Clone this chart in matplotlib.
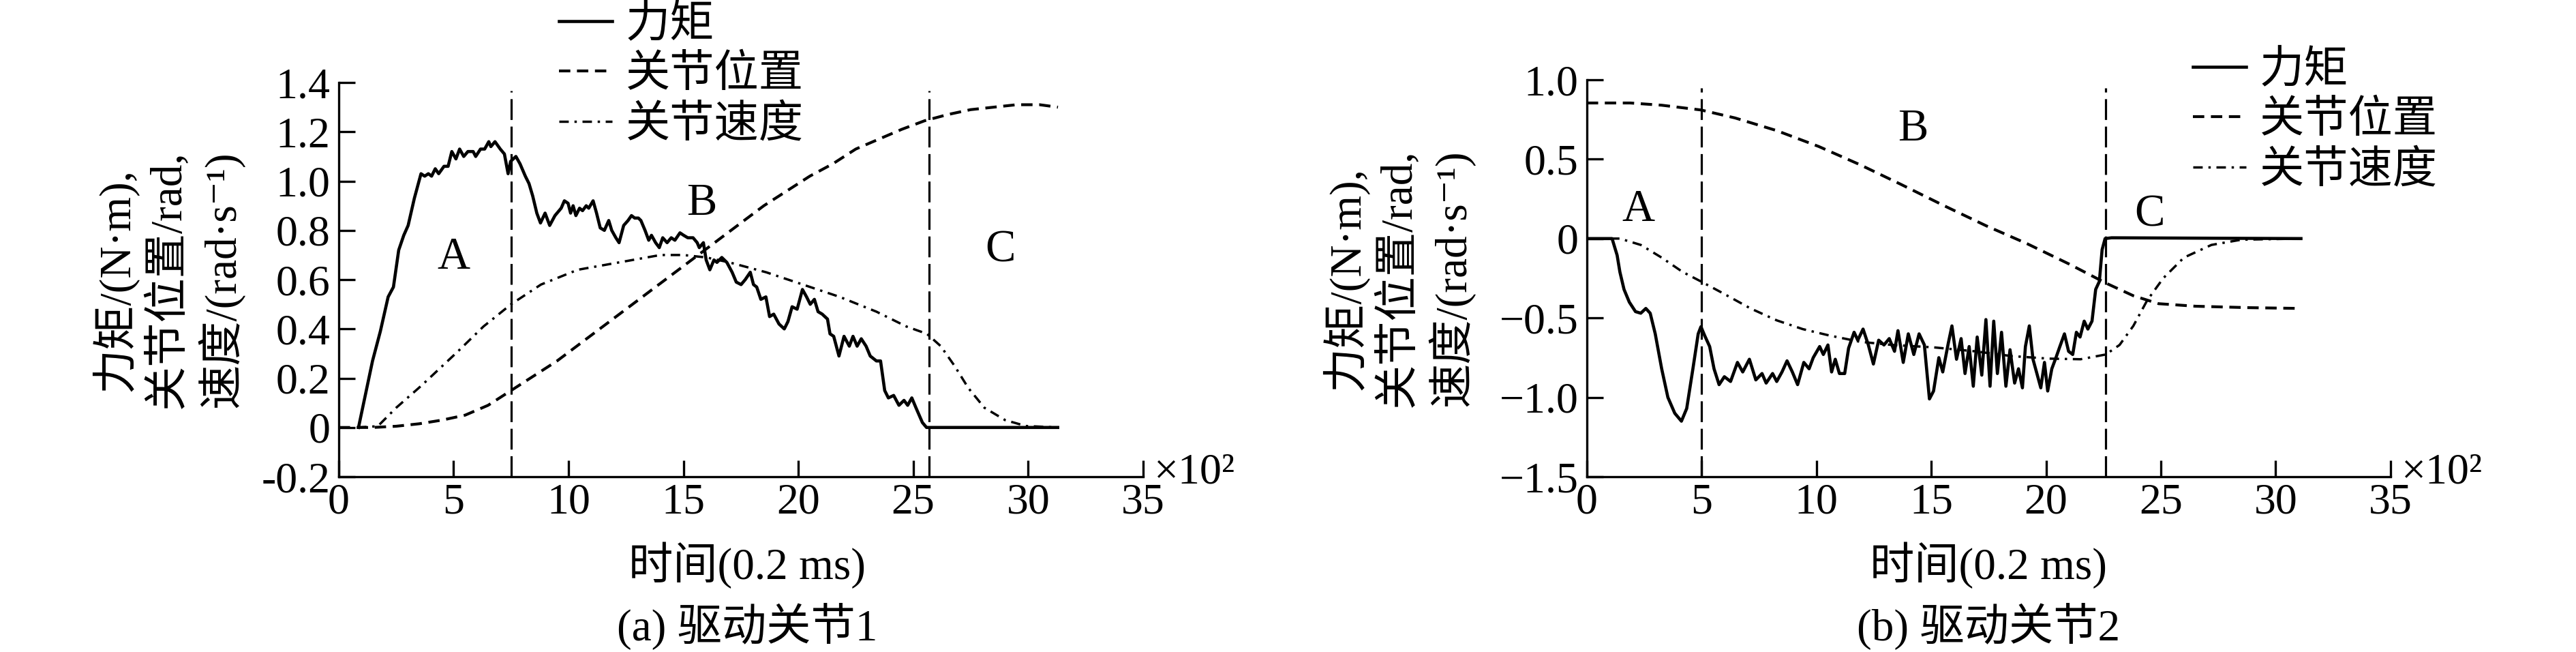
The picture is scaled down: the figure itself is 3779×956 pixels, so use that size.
import matplotlib
matplotlib.use('Agg')
import matplotlib.pyplot as plt

plt.rcParams['font.family'] = ['Liberation Serif', 'Noto Sans CJK SC', 'DejaVu Serif']
plt.rcParams['axes.unicode_minus'] = False
plt.rcParams['lines.scale_dashes'] = False

# ---------------- data: panel (a) 驱动关节1 ----------------
torque_a_x = [0.86, 1.13, 1.47, 1.81, 2.15, 2.38, 2.61, 2.83, 3.02, 3.29,
              3.58, 3.74, 3.90, 4.04, 4.20, 4.35, 4.58, 4.76, 4.92, 5.10,
              5.26, 5.44, 5.62, 5.85, 5.96, 6.17, 6.35, 6.53, 6.62, 6.80,
              7.03, 7.21, 7.37, 7.48, 7.71, 7.89, 8.12, 8.28, 8.44, 8.62,
              8.78, 8.98, 9.18, 9.41, 9.68, 9.82, 9.98, 10.09, 10.20, 10.32,
              10.48, 10.61, 10.77, 10.88, 11.07, 11.22, 11.38, 11.56, 11.75, 11.88,
              12.06, 12.20, 12.40, 12.59, 12.74, 12.88, 13.04, 13.15, 13.33, 13.49,
              13.61, 13.79, 13.95, 14.10, 14.29, 14.47, 14.63, 14.85, 15.01, 15.19,
              15.42, 15.60, 15.69, 15.87, 15.99, 16.15, 16.33, 16.46, 16.67, 16.89,
              17.12, 17.30, 17.51, 17.69, 17.91, 18.05, 18.19, 18.37, 18.59, 18.75,
              18.93, 19.16, 19.39, 19.55, 19.73, 19.95, 20.18, 20.36, 20.52, 20.70,
              20.86, 21.04, 21.27, 21.38, 21.54, 21.77, 21.99, 22.22, 22.38, 22.56,
              22.74, 22.95, 23.13, 23.40, 23.58, 23.76, 23.92, 24.15, 24.38, 24.60,
              24.76, 24.94, 25.12, 25.40, 25.58, 31.29]
torque_a_y = [0, 0.12, 0.27, 0.39, 0.53, 0.57, 0.72, 0.78, 0.82, 0.93,
              1.03, 1.02, 1.03, 1.02, 1.05, 1.03, 1.06, 1.06, 1.12, 1.09,
              1.13, 1.10, 1.12, 1.12, 1.10, 1.13, 1.13, 1.16, 1.14, 1.16,
              1.13, 1.11, 1.03, 1.08, 1.10, 1.07, 1.02, 0.99, 0.94, 0.87,
              0.83, 0.87, 0.82, 0.86, 0.89, 0.92, 0.91, 0.87, 0.90, 0.86,
              0.89, 0.88, 0.90, 0.89, 0.92, 0.87, 0.81, 0.80, 0.84, 0.80,
              0.77, 0.75, 0.82, 0.84, 0.86, 0.85, 0.85, 0.84, 0.80, 0.76,
              0.78, 0.75, 0.73, 0.77, 0.75, 0.77, 0.76, 0.79, 0.78, 0.77,
              0.77, 0.75, 0.73, 0.75, 0.68, 0.64, 0.68, 0.67, 0.69, 0.67,
              0.63, 0.59, 0.58, 0.60, 0.63, 0.58, 0.57, 0.52, 0.53, 0.45,
              0.46, 0.42, 0.40, 0.43, 0.49, 0.48, 0.56, 0.53, 0.50, 0.52,
              0.47, 0.46, 0.44, 0.38, 0.37, 0.29, 0.37, 0.33, 0.37, 0.33,
              0.36, 0.33, 0.29, 0.27, 0.27, 0.15, 0.12, 0.13, 0.09, 0.11,
              0.09, 0.12, 0.08, 0.02, 0, 0]

pos_a_x = [0, 1.5, 2.5, 3.5, 4.5, 5.5, 6.5, 7.5, 8.5, 9.5, 10.5, 11.5, 12.5, 13.5, 14.5,
           15.5, 16.5, 17.5, 18.5, 19.5, 20.5, 21.5, 22.5, 23.5, 24.5, 25.5, 26.5, 27.5,
           28.5, 29.5, 30.5, 31.3]
pos_a_y = [0, 0, 0.005, 0.015, 0.03, 0.05, 0.09, 0.15, 0.21, 0.27, 0.34, 0.41, 0.48, 0.55, 0.62,
           0.69, 0.76, 0.83, 0.90, 0.96, 1.02, 1.07, 1.13, 1.17, 1.21, 1.245, 1.27, 1.29,
           1.30, 1.31, 1.31, 1.30]

vel_a_x = [0.8, 1.7, 2.5, 3.6, 4.4, 5.2, 6.3, 7.5, 8.8, 10.4, 12.2, 14.0, 15.0, 16.0,
           17.0, 18.6, 20.2, 21.8, 23.4, 24.7, 25.6, 26.2, 26.8, 27.4, 28.1, 29.0, 29.9, 31.3]
vel_a_y = [0, 0.005, 0.08, 0.17, 0.24, 0.31, 0.41, 0.50, 0.58, 0.64, 0.67, 0.70, 0.70, 0.69,
           0.67, 0.63, 0.58, 0.53, 0.47, 0.41, 0.38, 0.33, 0.25, 0.16, 0.08, 0.03, 0.006, 0]

phase_a = [7.5, 25.7]
region_a = [('A', 5.0, 0.69), ('B', 15.8, 0.91), ('C', 28.8, 0.72)]

# ---------------- data: panel (b) 驱动关节2 ----------------
torque_b_x = [0, 1.10, 1.32, 1.44, 1.62, 1.85, 2.12, 2.35, 2.57, 2.76,
              2.98, 3.26, 3.53, 3.83, 4.12, 4.35, 4.62, 4.85, 4.97, 5.13,
              5.35, 5.54, 5.76, 5.99, 6.26, 6.56, 6.79, 7.08, 7.36, 7.63,
              7.81, 8.09, 8.27, 8.50, 8.72, 8.95, 9.18, 9.45, 9.68, 9.86,
              10.14, 10.30, 10.50, 10.66, 10.82, 11.00, 11.23, 11.40, 11.64, 11.80,
              12.03, 12.26, 12.48, 12.71, 12.94, 13.17, 13.40, 13.55, 13.78, 14.00,
              14.24, 14.47, 14.70, 14.92, 15.10, 15.33, 15.50, 15.74, 15.90, 16.10,
              16.30, 16.47, 16.65, 16.83, 17.00, 17.20, 17.38, 17.56, 17.72, 17.88,
              18.06, 18.25, 18.43, 18.63, 18.80, 18.97, 19.10, 19.27, 19.43, 19.60,
              19.77, 19.93, 20.07, 20.25, 20.43, 20.60, 20.80, 20.98, 21.16, 21.32,
              21.48, 21.66, 21.82, 22.00, 22.16, 22.32, 22.44, 22.57, 22.85, 31.10]
torque_b_y = [0, 0, -0.105, -0.21, -0.32, -0.40, -0.46, -0.47, -0.44, -0.47,
              -0.60, -0.82, -1.00, -1.10, -1.15, -1.07, -0.82, -0.60, -0.555, -0.61,
              -0.68, -0.82, -0.92, -0.87, -0.90, -0.78, -0.84, -0.76, -0.89, -0.85,
              -0.91, -0.85, -0.90, -0.84, -0.77, -0.84, -0.92, -0.78, -0.82, -0.75,
              -0.68, -0.73, -0.67, -0.84, -0.76, -0.85, -0.85, -0.69, -0.59, -0.64,
              -0.57, -0.67, -0.79, -0.64, -0.67, -0.63, -0.71, -0.58, -0.78, -0.60,
              -0.73, -0.60, -0.67, -1.01, -0.96, -0.75, -0.84, -0.66, -0.55, -0.76,
              -0.63, -0.85, -0.68, -0.93, -0.62, -0.86, -0.51, -0.93, -0.52, -0.85,
              -0.59, -0.93, -0.70, -0.91, -0.82, -0.94, -0.68, -0.55, -0.76, -0.85,
              -0.94, -0.78, -0.96, -0.82, -0.75, -0.68, -0.60, -0.71, -0.73, -0.59,
              -0.62, -0.52, -0.57, -0.52, -0.32, -0.27, -0.07, 0, 0.005, 0]

pos_b_x = [0, 1.9, 3.26, 4.97, 6.45, 8.27, 10.1, 11.9, 13.7, 15.56, 17.4, 19.2, 21.0,
           22.6, 23.8, 24.9, 26.5, 28.8, 31.1]
pos_b_y = [0.854, 0.854, 0.84, 0.81, 0.76, 0.68, 0.58, 0.465, 0.34, 0.207, 0.08, -0.034,
           -0.16, -0.28, -0.36, -0.41, -0.426, -0.435, -0.44]

vel_b_x = [0, 1.44, 2.35, 3.26, 4.17, 4.97, 6.0, 7.13, 8.27, 9.4, 10.55, 11.9, 13.3, 15.1,
           16.9, 18.5, 20.1, 21.5, 22.6, 23.2, 23.8, 24.4, 25.1, 26.0, 27.2, 28.5, 31.1]
vel_b_y = [0, 0, -0.04, -0.12, -0.21, -0.27, -0.35, -0.44, -0.515, -0.57, -0.61, -0.65,
           -0.67, -0.685, -0.71, -0.74, -0.756, -0.76, -0.73, -0.67, -0.55, -0.39, -0.25,
           -0.12, -0.04, -0.007, 0]

phase_b = [5.0, 22.6]
region_b = [('A', 2.25, 0.18), ('B', 14.2, 0.69), ('C', 24.5, 0.15)]

# ---------------- shared texts ----------------
legend_labels = ['力矩', '关节位置', '关节速度']
xticks = [0, 5, 10, 15, 20, 25, 30, 35]
xticklabels = ['0', '5', '10', '15', '20', '25', '30', '35']
yticks_a = [-0.2, 0, 0.2, 0.4, 0.6, 0.8, 1.0, 1.2, 1.4]
yticklabels_a = ['-0.2', '0', '0.2', '0.4', '0.6', '0.8', '1.0', '1.2', '1.4']
yticks_b = [-1.5, -1.0, -0.5, 0, 0.5, 1.0]
yticklabels_b = ['\u22121.5', '\u22121.0', '\u22120.5', '0', '0.5', '1.0']
ylabel = '力矩/(N·m),\n关节位置/rad,\n速度/(rad·s\u207b\u00b9)'
xlabel = '时间(0.2 ms)'
captions = ['(a) 驱动关节1', '(b) 驱动关节2']

TICK_FS = 46
TEXT_FS = 47

fig = plt.figure(figsize=(37.79, 9.56), dpi=100)
ax1 = fig.add_axes([0.1315, 0.2688, 0.3122, 0.6046])
ax2 = fig.add_axes([0.6160, 0.2688, 0.3120, 0.6088])


def draw(ax, tx, ty, px, py, vx, vy, phases, regions, ylim, yticks, yticklabels):
    l1, = ax.plot(tx, ty, color='black', lw=3.3, solid_joinstyle='round')
    l2, = ax.plot(px, py, color='black', lw=3.0, dashes=(12, 7))
    l3, = ax.plot(vx, vy, color='black', lw=2.5, dashes=(10, 6, 2.5, 6))
    for xv in phases:
        ax.plot([xv, xv], [ylim[0], ylim[1] - 0.02 * (ylim[1] - ylim[0])],
                color='black', lw=2.3, dashes=(22, 7))
    for t, x, y in regions:
        ax.text(x, y, t, ha='center', va='center', fontsize=TICK_FS + 2)
    ax.set_xlim(0, 35)
    ax.set_ylim(*ylim)
    for s in ['top', 'right']:
        ax.spines[s].set_visible(False)
    for s in ['left', 'bottom']:
        ax.spines[s].set_linewidth(2.4)
    ax.set_xticks(xticks)
    ax.set_xticklabels(xticklabels)
    ax.set_yticks(yticks)
    ax.set_yticklabels(yticklabels)
    ax.tick_params(direction='in', length=17, width=2.4, labelsize=TICK_FS)
    ax.tick_params(axis='y', pad=9)
    ax.tick_params(axis='x', pad=7)
    ax.text(1.014, -0.016, '×10²', transform=ax.transAxes, ha='left', va='baseline',
            fontsize=TICK_FS)
    return [l1, l2, l3]


h1 = draw(ax1, torque_a_x, torque_a_y, pos_a_x, pos_a_y, vel_a_x, vel_a_y,
          phase_a, region_a, (-0.2, 1.4), yticks_a, yticklabels_a)
h2 = draw(ax2, torque_b_x, torque_b_y, pos_b_x, pos_b_y, vel_b_x, vel_b_y,
          phase_b, region_b, (-1.5, 1.0), yticks_b, yticklabels_b)

for ax, h, anchor, ylx, cap, cx in [(ax1, h1, (0.2170, 0.884), -0.213, captions[0], 0.290),
                                   (ax2, h2, (0.8512, 0.814), -0.235, captions[1], 0.772)]:
    fig.legend(h, legend_labels, loc='center left', bbox_to_anchor=anchor, frameon=False,
               fontsize=TEXT_FS, handlelength=1.2, handletextpad=0.3, labelspacing=0.2,
               borderpad=0, borderaxespad=0)
    ax.text(ylx, 0.5, ylabel, transform=ax.transAxes, rotation=90, ha='center', va='center',
            multialignment='center', fontsize=TEXT_FS, linespacing=1.2)
    fig.text(cx, 0.133, xlabel, ha='center', va='center', fontsize=TEXT_FS)
    fig.text(cx, 0.039, cap, ha='center', va='center', fontsize=TEXT_FS)

fig.savefig('out.png', dpi=100)
